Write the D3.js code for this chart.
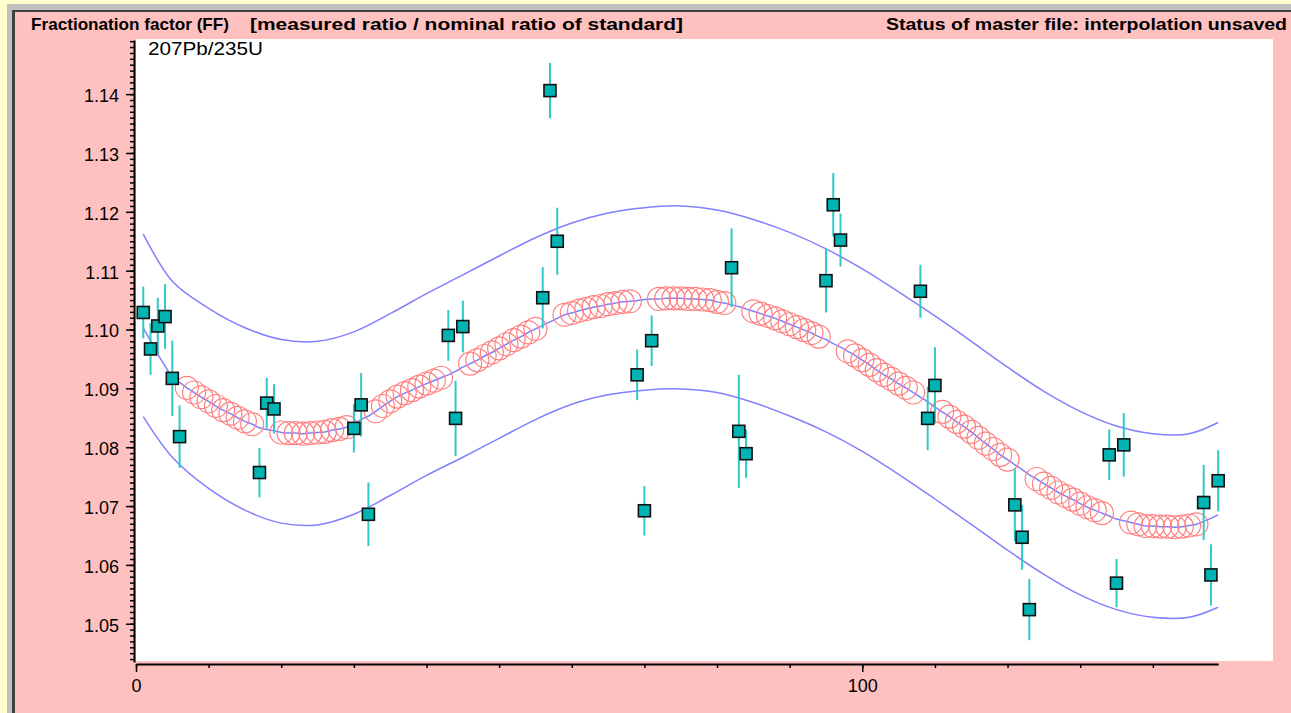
<!DOCTYPE html>
<html>
<head>
<meta charset="utf-8">
<script src="https://cdn.jsdelivr.net/npm/d3@7"></script>
<style>
  body { margin: 0; background: #ffffcc; }
  svg { display: block; }
  text { font-family: "Liberation Sans", Arial, sans-serif; fill: #000; }
</style>
</head>
<body>
<script>
// standards: analysis number, measured FF, 1 sigma
const stdX = [1, 2, 3, 4, 5, 6, 17, 18, 19, 30, 31, 32, 43, 44, 45, 56, 57, 58, 69, 70, 71,
    82, 83, 84, 95, 96, 97, 108, 109, 110, 121, 122, 123, 134, 135, 136, 147, 148, 149];
const stdVal = [1.1029, 1.0967, 1.1006, 1.1022, 1.0917, 1.0818, 1.0757, 1.0875, 1.0865,
    1.0832, 1.0872, 1.0686, 1.0990, 1.0849, 1.1005, 1.1054, 1.1406, 1.1150, 1.0923, 1.0692,
    1.0981, 1.1105, 1.0827, 1.0789, 1.1083, 1.1212, 1.1152, 1.1065, 1.0849, 1.0905, 1.0702,
    1.0647, 1.0524, 1.0787, 1.0569, 1.0804, 1.0706, 1.0583, 1.0743];
const stdErr = [0.0044, 0.0044, 0.0048, 0.0055, 0.0064, 0.0053, 0.0042, 0.0043, 0.0042,
    0.0041, 0.0054, 0.0054, 0.0043, 0.0064, 0.0044, 0.0052, 0.0047, 0.0057, 0.0043, 0.0042,
    0.0043, 0.0067, 0.0096, 0.0041, 0.0054, 0.0054, 0.0045, 0.0045, 0.0054, 0.0065, 0.0062,
    0.0055, 0.0052, 0.0043, 0.0041, 0.0054, 0.0064, 0.0052, 0.0052];

// interpolated FF for every analysis 1..149
const fitVal = [
    1.1003, 1.0981, 1.0958, 1.0938, 1.0918, 1.0910, 1.0901, 1.0893, 1.0885, 1.0878,
    1.0870, 1.0863, 1.0857, 1.0850, 1.0844, 1.0839, 1.0833, 1.0830, 1.0828, 1.0825,
    1.0824, 1.0824, 1.0823, 1.0824, 1.0825, 1.0826, 1.0829, 1.0831, 1.0834, 1.0840,
    1.0847, 1.0853, 1.0861, 1.0870, 1.0878, 1.0886, 1.0892, 1.0897, 1.0903, 1.0908,
    1.0913, 1.0918, 1.0923, 1.0929, 1.0936, 1.0942, 1.0948, 1.0955, 1.0961, 1.0968,
    1.0975, 1.0982, 1.0988, 1.0995, 1.1001, 1.1007, 1.1013, 1.1019, 1.1025, 1.1028,
    1.1032, 1.1035, 1.1038, 1.1040, 1.1043, 1.1045, 1.1047, 1.1048, 1.1049, 1.1051,
    1.1052, 1.1052, 1.1053, 1.1053, 1.1053, 1.1052, 1.1052, 1.1051, 1.1050, 1.1047,
    1.1045, 1.1042, 1.1039, 1.1035, 1.1031, 1.1027, 1.1023, 1.1019, 1.1014, 1.1009,
    1.1004, 1.0999, 1.0994, 1.0988, 1.0983, 1.0976, 1.0970, 1.0963, 1.0956, 1.0948,
    1.0940, 1.0931, 1.0923, 1.0916, 1.0908, 1.0901, 1.0893, 1.0885, 1.0877, 1.0868,
    1.0860, 1.0852, 1.0843, 1.0835, 1.0826, 1.0816, 1.0806, 1.0797, 1.0787, 1.0779,
    1.0770, 1.0762, 1.0753, 1.0746, 1.0738, 1.0731, 1.0723, 1.0717, 1.0711, 1.0704,
    1.0698, 1.0693, 1.0688, 1.0683, 1.0678, 1.0675, 1.0672, 1.0669, 1.0666, 1.0666,
    1.0665, 1.0665, 1.0664, 1.0665, 1.0667, 1.0669, 1.0674, 1.0679, 1.0685];

// confidence envelope
const envX = [1, 5, 10, 15, 20, 25, 30, 35, 40, 45, 50, 55, 60, 65, 70, 75, 80, 85, 90, 95,
    100, 105, 110, 115, 120, 125, 130, 135, 140, 145, 149];
const upperVal = [1.1162, 1.1082, 1.1036, 1.1003, 1.0983, 1.0980, 1.0996, 1.1027, 1.1061,
    1.1093, 1.1125, 1.1156, 1.1181, 1.1198, 1.1207, 1.1210, 1.1203, 1.1187, 1.1165, 1.1137,
    1.1103, 1.1064, 1.1023, 1.0980, 1.0936, 1.0895, 1.0861, 1.0836, 1.0823, 1.0823, 1.0842];
const lowerVal = [1.0852, 1.0783, 1.0730, 1.0693, 1.0671, 1.0668, 1.0686, 1.0718, 1.0752,
    1.0783, 1.0815, 1.0847, 1.0873, 1.0889, 1.0897, 1.0899, 1.0893, 1.0876, 1.0853, 1.0826,
    1.0793, 1.0754, 1.0712, 1.0669, 1.0625, 1.0584, 1.0549, 1.0524, 1.0511, 1.0511, 1.0528];

const yMajor = [1.05, 1.06, 1.07, 1.08, 1.09, 1.10, 1.11, 1.12, 1.13, 1.14];
const xLabels = [0, 100];

const W = 1291, H = 713;

const svg = d3.select("body").append("svg")
    .attr("width", W)
    .attr("height", H);

// window frame
svg.append("rect").attr("x", 7).attr("y", 4).attr("width", W - 7).attr("height", H - 4)
    .attr("fill", "#c0c0c0");
svg.append("rect").attr("x", 12).attr("y", 10).attr("width", W - 12).attr("height", H - 10)
    .attr("fill", "#404040");
svg.append("rect").attr("x", 15).attr("y", 12).attr("width", W - 15).attr("height", H - 12)
    .attr("fill", "#ffc0c0");
svg.append("rect").attr("x", 136).attr("y", 39).attr("width", 1273 - 136).attr("height", 661 - 39)
    .attr("fill", "#ffffff");

// header
const cabecera = [
    ["Fractionation factor (FF)", 31, 198],
    ["[measured ratio / nominal ratio of standard]", 250, 433],
    ["Status of master file: interpolation unsaved", 886, 401]
];
svg.selectAll("text.cab")
    .data(cabecera)
    .enter()
    .append("text")
    .attr("class", "cab")
    .attr("x", function(d) { return d[1]; })
    .attr("y", 30)
    .style("font-size", "17px")
    .style("font-weight", "bold")
    .attr("textLength", function(d) { return d[2]; })
    .attr("lengthAdjust", "spacingAndGlyphs")
    .text(function(d) { return d[0]; });

const gx = d3.scaleLinear().domain([0, 149]).range([136, 136 + 149 * 7.263]);
const gy = d3.scaleLinear().domain([1.0435, 1.1492]).range([662, 40]);

// y axis, minor then major ticks
svg.append("g")
    .attr("transform", "translate(134,0)")
    .call(d3.axisLeft(gy).tickValues(d3.range(1044, 1150).map(function(d) { return d / 1000; }))
        .tickSize(4).tickSizeOuter(0).tickFormat(""))
    .call(function(g) {
        g.select(".domain").attr("stroke-width", 2);
        g.selectAll(".tick line").attr("stroke-width", 1.5);
    });

svg.append("g")
    .attr("transform", "translate(134,0)")
    .call(d3.axisLeft(gy).tickValues(yMajor).tickSize(8).tickPadding(7)
        .tickSizeOuter(0).tickFormat(d3.format(".2f")))
    .call(function(g) {
        g.select(".domain").remove();
        g.selectAll(".tick line").attr("stroke-width", 1.5);
        g.selectAll(".tick text")
            .attr("dy", "0.41em")
            .style("font-size", "18px")
            .style("font-family", "Liberation Sans, Arial, sans-serif")
            .attr("fill", "#000");
    });

// x axis
svg.append("g")
    .attr("transform", "translate(0,664)")
    .call(d3.axisBottom(gx).tickValues(d3.range(0, 150, 10)).tickSize(4)
        .tickSizeOuter(0).tickFormat(""))
    .call(function(g) {
        g.select(".domain").attr("stroke-width", 2);
        g.selectAll(".tick line").attr("stroke-width", 1.5);
    });

svg.append("g")
    .attr("transform", "translate(0,664)")
    .call(d3.axisBottom(gx).tickValues(xLabels).tickSize(8).tickPadding(7)
        .tickSizeOuter(0).tickFormat(d3.format("d")))
    .call(function(g) {
        g.select(".domain").remove();
        g.selectAll(".tick line").attr("stroke-width", 1.5);
        g.selectAll(".tick text")
            .style("font-size", "18px")
            .style("font-family", "Liberation Sans, Arial, sans-serif")
            .attr("fill", "#000");
    });

svg.append("text").attr("x", 148).attr("y", 55)
    .style("font-size", "19px")
    .attr("textLength", 115).attr("lengthAdjust", "spacingAndGlyphs")
    .text("207Pb/235U");

// curves
const fit = fitVal.map(function(v, i) { return [i + 1, v]; });
const upper = envX.map(function(x, i) { return [x, upperVal[i]]; });
const lower = envX.map(function(x, i) { return [x, lowerVal[i]]; });

const linea = function(curva) {
    return d3.line()
        .x(function(d) { return gx(d[0]); })
        .y(function(d) { return gy(d[1]); })
        .curve(curva);
};

svg.append("path").datum(upper).attr("d", linea(d3.curveCatmullRom.alpha(0.5)))
    .attr("fill", "none").attr("stroke", "#8080ff").attr("stroke-width", 1.5);
svg.append("path").datum(lower).attr("d", linea(d3.curveCatmullRom.alpha(0.5)))
    .attr("fill", "none").attr("stroke", "#8080ff").attr("stroke-width", 1.5);
svg.append("path").datum(fit).attr("d", linea(d3.curveMonotoneX))
    .attr("fill", "none").attr("stroke", "#8080ff").attr("stroke-width", 1.5);

// unknowns: red circles on the interpolation
const unknowns = fit.filter(function(d) { return stdX.indexOf(d[0]) === -1; });
svg.append("g").selectAll("circle")
    .data(unknowns)
    .enter()
    .append("circle")
    .attr("cx", function(d) { return gx(d[0]); })
    .attr("cy", function(d) { return gy(d[1]); })
    .attr("r", 11.5)
    .attr("fill", "none")
    .attr("stroke", "#ff8080")
    .attr("stroke-width", 1.2);

// standards with error bars
const standards = stdX.map(function(x, i) { return [x, stdVal[i], stdErr[i]]; });

svg.append("g").selectAll("line")
    .data(standards)
    .enter()
    .append("line")
    .attr("x1", function(d) { return gx(d[0]); })
    .attr("x2", function(d) { return gx(d[0]); })
    .attr("y1", function(d) { return gy(d[1] + d[2]); })
    .attr("y2", function(d) { return gy(d[1] - d[2]); })
    .attr("stroke", "#30c8c8")
    .attr("stroke-width", 2);

svg.append("g").selectAll("rect")
    .data(standards)
    .enter()
    .append("rect")
    .attr("x", function(d) { return gx(d[0]) - 6; })
    .attr("y", function(d) { return gy(d[1]) - 6; })
    .attr("width", 12)
    .attr("height", 12)
    .attr("fill", "#00b4b4")
    .attr("stroke", "#111")
    .attr("stroke-width", 1.6);
</script>
</body>
</html>
